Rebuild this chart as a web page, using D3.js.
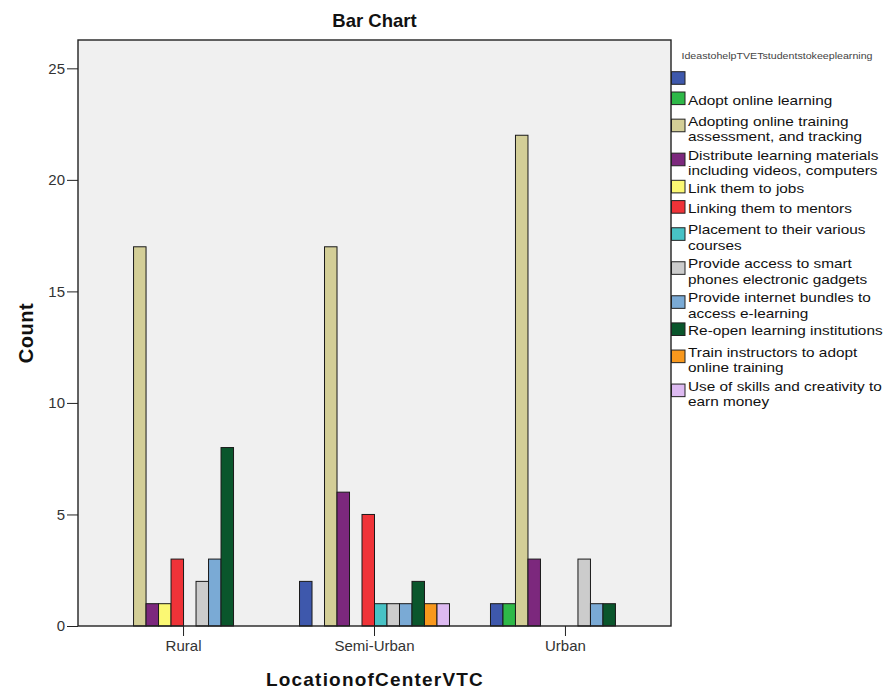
<!DOCTYPE html>
<html>
<head>
<meta charset="utf-8">
<script src="https://cdn.jsdelivr.net/npm/d3@7"></script>
<style>
  html, body { margin: 0; padding: 0; background: #fff; }
  svg { display: block; }
  text { font-family: "Liberation Sans", Arial, sans-serif; }
</style>
</head>
<body>
<svg id="chart" width="889" height="689"></svg>
<script>
// ---- data ----
const categories = ["Rural", "Semi-Urban", "Urban"];
const seriesNames = [
  [""],
  ["Adopt online learning"],
  ["Adopting online training", "assessment, and tracking"],
  ["Distribute learning materials", "including videos, computers"],
  ["Link them to jobs"],
  ["Linking them to mentors"],
  ["Placement to their various", "courses"],
  ["Provide access to smart", "phones electronic gadgets"],
  ["Provide internet bundles to", "access e-learning"],
  ["Re-open learning institutions"],
  ["Train instructors to adopt", "online training"],
  ["Use of skills and creativity to", "earn money"]
];
const seriesColors = ["#3E58AC", "#2EB848", "#D3CE97", "#7C287D", "#FBF873", "#EF3338",
                      "#48C2C5", "#CCCCCC", "#7AAAD5", "#0A562C", "#F8981D", "#DDBAF1"];
const ruralValues     = [0, 0, 17, 1, 1, 3, 0, 2, 3, 8, 0, 0];
const semiUrbanValues = [2, 0, 17, 6, 0, 5, 1, 1, 1, 2, 1, 1];
const urbanValues     = [1, 1, 22, 3, 0, 0, 0, 3, 1, 1, 0, 0];
const yTicks = [0, 5, 10, 15, 20, 25];
const yMax = 26.27;
const title = "Bar Chart";
const xTitle = "LocationofCenterVTC";
const yTitle = "Count";
const legendTitle = "IdeastohelpTVETstudentstokeeplearning";

const valuesByCategory = [ruralValues, semiUrbanValues, urbanValues];
const table = [];
categories.forEach((c, ci) => {
  valuesByCategory[ci].forEach((v, si) => table.push({ cat: c, s: si, v: v }));
});

// ---- layout ----
const plot = { left: 78, top: 40, right: 671, bottom: 626 };
const svg = d3.select("#chart");

const x0 = d3.scaleBand().domain(categories)
  .range([plot.left, plot.right]).paddingInner(0.2147).paddingOuter(0.16);
const x1 = d3.scaleBand().domain(d3.range(seriesNames.length))
  .range([0, x0.bandwidth()]);
const y = d3.scaleLinear().domain([0, yMax]).range([plot.bottom, plot.top]);

// plot background
svg.append("rect")
  .attr("x", plot.left).attr("y", plot.top)
  .attr("width", plot.right - plot.left).attr("height", plot.bottom - plot.top)
  .attr("fill", "#F0F0F0");

// bars
svg.append("g").selectAll("rect")
  .data(table.filter(d => d.v > 0))
  .join("rect")
  .attr("x", d => x0(d.cat) + x1(d.s))
  .attr("y", d => y(d.v))
  .attr("width", x1.bandwidth())
  .attr("height", d => y(0) - y(d.v))
  .attr("fill", d => seriesColors[d.s])
  .attr("stroke", "#1a1a1a")
  .attr("stroke-width", 1);

// frame
svg.append("rect")
  .attr("x", plot.left).attr("y", plot.top)
  .attr("width", plot.right - plot.left).attr("height", plot.bottom - plot.top)
  .attr("fill", "none").attr("stroke", "#222").attr("stroke-width", 1.4);

// y axis
const yAxis = svg.append("g")
  .attr("transform", `translate(${plot.left},0)`)
  .call(d3.axisLeft(y).tickValues(yTicks).tickSize(11).tickPadding(2).tickFormat(d3.format("d")));
yAxis.select(".domain").remove();
yAxis.selectAll(".tick line").attr("stroke", "#222");
yAxis.selectAll(".tick text").attr("fill", "#333")
  .style("font-family", '"Liberation Sans", Arial, sans-serif').style("font-size", "15px");

// x axis
const xAxis = svg.append("g")
  .attr("transform", `translate(0,${plot.bottom})`)
  .call(d3.axisBottom(x0).tickSize(10).tickPadding(4));
xAxis.select(".domain").remove();
xAxis.selectAll(".tick line").attr("stroke", "#222");
xAxis.selectAll(".tick text").attr("fill", "#333")
  .style("font-family", '"Liberation Sans", Arial, sans-serif').style("font-size", "15px");

// titles
const cx = (plot.left + plot.right) / 2;
svg.append("text").attr("x", cx).attr("y", 27)
  .attr("text-anchor", "middle").attr("font-weight", "bold").attr("font-size", 18.5)
  .attr("fill", "#111").text(title);
svg.append("text").attr("x", 375).attr("y", 686)
  .attr("text-anchor", "middle").attr("font-weight", "bold").attr("font-size", 19)
  .attr("letter-spacing", 1.2).attr("fill", "#111").text(xTitle);
svg.append("text")
  .attr("transform", `translate(33,${(plot.top + plot.bottom) / 2}) rotate(-90)`)
  .attr("text-anchor", "middle").attr("font-weight", "bold").attr("font-size", 20)
  .attr("letter-spacing", 0.5).attr("fill", "#111").text(yTitle);

// legend
const lg = svg.append("g");
lg.append("text").attr("x", 681.5).attr("y", 59)
  .attr("font-size", 9.5).attr("fill", "#444")
  .attr("textLength", 191).attr("lengthAdjust", "spacingAndGlyphs")
  .text(legendTitle);

const h1 = 20.3, h2 = 34;
const lineGap = 15.2;
let c = 78;
seriesNames.forEach((lines, i) => {
  if (i > 0) {
    const hp = seriesNames[i - 1].length > 1 ? h2 : h1;
    const hc = lines.length > 1 ? h2 : h1;
    c += (hp + hc) / 2;
  }
  lg.append("rect")
    .attr("x", 671.5).attr("y", c - 6.3).attr("width", 13.5).attr("height", 12.6)
    .attr("fill", seriesColors[i]).attr("stroke", "#222").attr("stroke-width", 1);
  if (lines[0] === "") return;
  const firstBaseline = lines.length === 1 ? c + 6.2 : c + 0.4;
  const t = lg.append("text")
    .attr("transform", `translate(688,${firstBaseline}) scale(1.13,1)`)
    .attr("font-size", 13.6).attr("fill", "#111");
  lines.forEach((ln, k) => {
    t.append("tspan").attr("x", 0).attr("y", k * lineGap).text(ln);
  });
});
</script>
</body>
</html>
